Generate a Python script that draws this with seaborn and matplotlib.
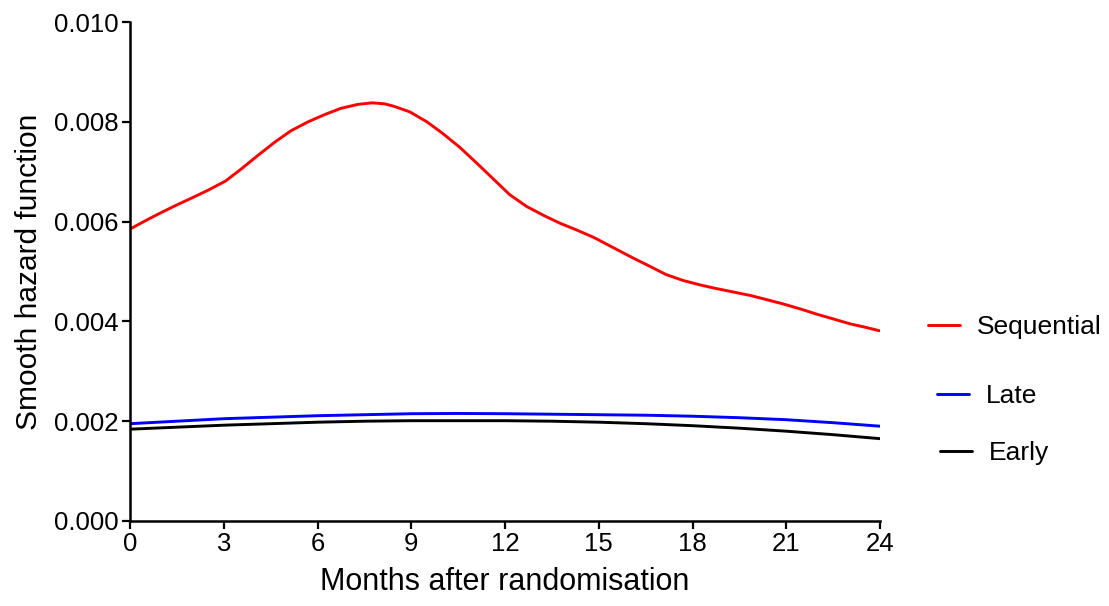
import numpy as np
import pandas as pd
import matplotlib
matplotlib.use("Agg")
import matplotlib.pyplot as plt
from matplotlib.ticker import FormatStrFormatter
import seaborn as sns

# ---- data ----
seq_months = [0.0, 0.5, 0.9, 1.45, 2.0, 2.5, 3.05, 3.55, 4.1, 4.65, 5.15, 5.7, 6.25, 6.75, 7.3, 7.75,
              8.15, 8.45, 8.95, 9.5, 10.0, 10.55, 11.1, 11.65, 12.15, 12.7, 13.25, 13.75, 14.3, 14.85,
              15.55, 16.1, 16.65, 17.15, 17.7, 18.25, 18.75, 19.3, 19.85, 20.35, 20.9, 21.45, 21.95,
              22.5, 23.05, 23.55, 24.0]
seq_hazard = [0.00585, 0.00602, 0.00615, 0.00632, 0.00648, 0.00663, 0.00681, 0.00705, 0.00733, 0.00760,
              0.00782, 0.00800, 0.00815, 0.00827, 0.00835, 0.00838, 0.00836, 0.00831, 0.00820, 0.00800,
              0.00777, 0.00749, 0.00717, 0.00684, 0.00654, 0.00630, 0.00612, 0.00597, 0.00583, 0.00568,
              0.00545, 0.00527, 0.00510, 0.00494, 0.00482, 0.00473, 0.00466, 0.00459, 0.00452, 0.00444,
              0.00435, 0.00425, 0.00415, 0.00405, 0.00395, 0.00388, 0.00381]

ml_months = [0, 1.5, 3, 4.5, 6, 7.5, 9, 10.5, 12, 13.5, 15, 16.5, 18, 19.5, 21, 22.5, 24]
late_hazard = [0.00195, 0.00200, 0.00205, 0.00208, 0.00211, 0.00213, 0.00215, 0.002155, 0.00215,
               0.00214, 0.00213, 0.00212, 0.00210, 0.00207, 0.00203, 0.00197, 0.00190]
early_hazard = [0.00184, 0.00188, 0.00192, 0.00195, 0.00198, 0.00200, 0.00201, 0.00201, 0.00201,
                0.00200, 0.00198, 0.00195, 0.00191, 0.00186, 0.00180, 0.00173, 0.00165]

groups = ["Sequential", "Late", "Early"]
colors = ["#FF0000", "#0000FF", "#000000"]
x_ticks = [0, 3, 6, 9, 12, 15, 18, 21, 24]
y_ticks = [0.000, 0.002, 0.004, 0.006, 0.008, 0.010]

df = pd.concat([
    pd.DataFrame({"month": seq_months, "hazard": seq_hazard, "group": "Sequential"}),
    pd.DataFrame({"month": ml_months, "hazard": late_hazard, "group": "Late"}),
    pd.DataFrame({"month": ml_months, "hazard": early_hazard, "group": "Early"}),
], ignore_index=True)

sns.set_style("ticks")
plt.rcParams["font.family"] = ["Liberation Sans", "DejaVu Sans"]
plt.rcParams["text.color"] = "black"
plt.rcParams["axes.labelcolor"] = "black"

fig = plt.figure(figsize=(11.09, 6.06), dpi=100)
ax = fig.add_axes([130 / 1109, 1 - 521 / 606, 750 / 1109, 499 / 606])

sns.lineplot(data=df, x="month", y="hazard", hue="group", hue_order=groups,
             palette=colors, linewidth=2.1, legend=False, ax=ax, sort=True,
             estimator=None)

ax.set_xlim(0, 24)
ax.set_ylim(0, 0.010)
ax.set_xticks(x_ticks)
ax.set_yticks(y_ticks)
ax.yaxis.set_major_formatter(FormatStrFormatter("%.3f"))

for s in ["top", "right"]:
    ax.spines[s].set_visible(False)
for s in ["left", "bottom"]:
    ax.spines[s].set_linewidth(1.8)
    ax.spines[s].set_color("black")
ax.tick_params(axis="both", direction="out", length=6, width=1.6, colors="black",
               labelcolor="black", labelsize=18.5, pad=2)

ax.set_xlabel("Months after randomisation", fontsize=22, labelpad=8, color="black")
ax.set_ylabel("Smooth hazard function", fontsize=21.5, labelpad=8, color="black")

lines = ax.get_lines()
legend_pos = [(928 / 1109, 1 - 327 / 606), (937 / 1109, 1 - 396 / 606), (940 / 1109, 1 - 453 / 606)]
for ln, name, pos in zip(lines[:3], groups, legend_pos):
    fig.legend([ln], [name], loc="center left", bbox_to_anchor=pos,
               frameon=False, fontsize=19, handlelength=1.2, handletextpad=0.65,
               borderpad=0, borderaxespad=0, labelcolor="black")

fig.savefig("out.png", dpi=100)
